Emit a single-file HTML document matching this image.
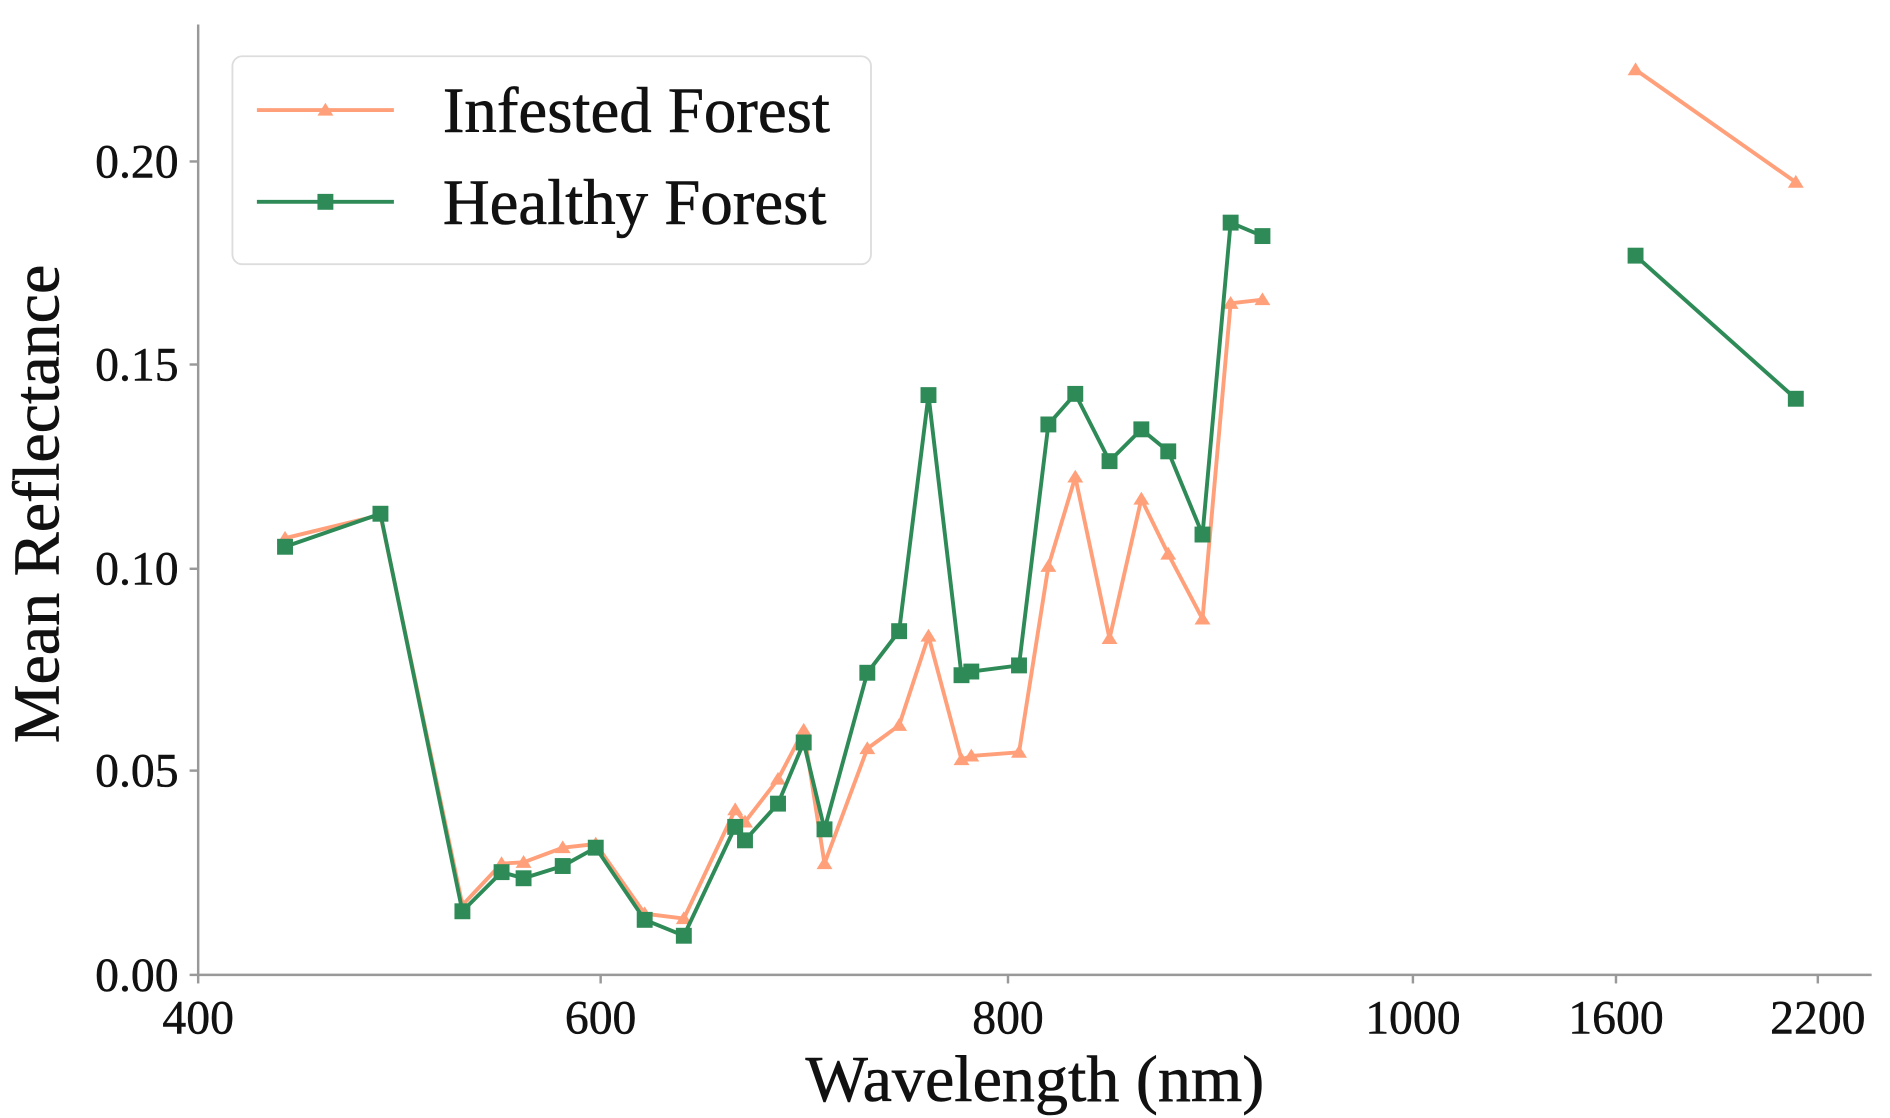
<!DOCTYPE html>
<html><head><meta charset="utf-8"><style>html,body{margin:0;padding:0;background:#fff}svg{display:block}</style></head>
<body>
<svg width="1890" height="1118" viewBox="0 0 1545 914" preserveAspectRatio="none" xmlns="http://www.w3.org/2000/svg" font-family="'Liberation Serif', serif">
<defs>
<marker id="tri" viewBox="-7 -7 14 14" markerWidth="14" markerHeight="14" markerUnits="userSpaceOnUse"><polygon points="0,-6 6.5,4.5 -6.5,4.5" fill="#FFA07A"/></marker>
<marker id="sq" viewBox="-7 -7 14 14" markerWidth="14" markerHeight="14" markerUnits="userSpaceOnUse"><rect x="-6.5" y="-6.5" width="13" height="13" fill="#2E8B57"/></marker>
</defs>
<g stroke="#999" stroke-width="2" fill="none">
<line x1="162" y1="20" x2="162" y2="798"/>
<line x1="161" y1="797" x2="1530" y2="797"/>
<line x1="155" y1="797" x2="162" y2="797"/><line x1="155" y1="630" x2="162" y2="630"/><line x1="155" y1="465" x2="162" y2="465"/><line x1="155" y1="298" x2="162" y2="298"/><line x1="155" y1="132" x2="162" y2="132"/>
<line x1="162" y1="797" x2="162" y2="804"/><line x1="491" y1="797" x2="491" y2="804"/><line x1="824" y1="797" x2="824" y2="804"/><line x1="1155" y1="797" x2="1155" y2="804"/><line x1="1321" y1="797" x2="1321" y2="804"/><line x1="1486" y1="797" x2="1486" y2="804"/>
</g>
<g font-size="39" fill="#111" text-anchor="end" stroke="#111" stroke-width="0.4">
<text x="146" y="810">0.00</text><text x="146" y="643">0.05</text><text x="146" y="478">0.10</text><text x="146" y="311">0.15</text><text x="146" y="145">0.20</text>
</g>
<g font-size="39" fill="#111" text-anchor="middle" stroke="#111" stroke-width="0.4">
<text x="162" y="845">400</text><text x="491" y="845">600</text><text x="824" y="845">800</text><text x="1155" y="845">1000</text><text x="1321" y="845">1600</text><text x="1486" y="845">2200</text>
</g>
<text x="846" y="900" font-size="54" text-anchor="middle" fill="#111" stroke="#111" stroke-width="0.5">Wavelength (nm)</text>
<text transform="translate(48,412) rotate(-90)" font-size="54" text-anchor="middle" fill="#111" stroke="#111" stroke-width="0.5">Mean Reflectance</text>
<g fill="none" stroke-width="3.2" stroke-linejoin="round">
<polyline stroke="#FFA07A" marker-start="url(#tri)" marker-mid="url(#tri)" marker-end="url(#tri)" points="233,440 311,421 378,740 410,706 428,705 460,693 487,690 527,747 559,751 601,662 609,672 636,637 657,597 674,706 709,612 735,593 759,520 786,621 794,618 833,615 857,463 879,390 907,522 933,408 955,453 983,506 1006,248 1032,245"/>
<polyline stroke="#FFA07A" marker-start="url(#tri)" marker-end="url(#tri)" points="1337,57 1468,149"/>
<polyline stroke="#2E8B57" marker-start="url(#sq)" marker-mid="url(#sq)" marker-end="url(#sq)" points="233,447 311,420 378,745 410,713 428,718 460,708 487,693 527,752 559,765 601,676 609,687 636,657 657,607 674,678 709,550 735,516 759,323 786,552 794,549 833,544 857,347 879,322 907,377 933,351 955,369 983,437 1006,182 1032,193"/>
<polyline stroke="#2E8B57" marker-start="url(#sq)" marker-end="url(#sq)" points="1337,209 1468,326"/>
</g>
<rect x="190" y="46" width="522" height="170" rx="8" fill="#fff" fill-opacity="0.8" stroke="#ddd" stroke-width="1.5"/>
<polyline points="210,90 266,90 322,90" fill="none" stroke="#FFA07A" stroke-width="3.2" marker-mid="url(#tri)"/>
<polyline points="210,165 266,165 322,165" fill="none" stroke="#2E8B57" stroke-width="3.2" marker-mid="url(#sq)"/>
<text x="362" y="108" font-size="53" fill="#111" stroke="#111" stroke-width="0.5">Infested Forest</text>
<text x="362" y="183" font-size="53" fill="#111" stroke="#111" stroke-width="0.5">Healthy Forest</text>
</svg>
</body></html>
